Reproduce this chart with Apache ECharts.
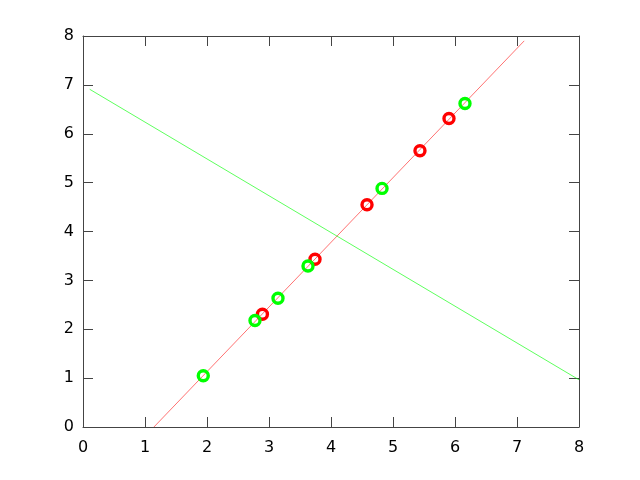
<!DOCTYPE html>
<html><head><meta charset="utf-8">
<script src="https://cdn.jsdelivr.net/npm/echarts@6/dist/echarts.min.js"></script>
<style>html,body{margin:0;padding:0;background:#fff}#c{width:640px;height:480px}</style>
</head><body><div id="c"></div>
<script>
const greenX = [1.94, 2.774, 3.145, 3.629, 4.823, 6.161];
const greenY = [1.048, 2.178, 2.635, 3.295, 4.882, 6.619];
const redX = [2.894, 3.742, 4.581, 5.435, 5.903];
const redY = [2.308, 3.432, 4.548, 5.651, 6.313];
const redLineX = [1.144, 7.116];
const redLineY = [0, 7.9];
const greenLineX = [0.108, 8];
const greenLineY = [6.91, 0.966];
const xTicks = [0,1,2,3,4,5,6,7,8];
const yTicks = [0,1,2,3,4,5,6,7,8];

const zip = (a,b)=>a.map((v,i)=>[v,b[i]]);
const font = {fontFamily:'DejaVu Sans', fontSize:16, color:'#000'};
const axisLine = {show:true, onZero:false, lineStyle:{color:'#444', width:1}};
const tick = {show:true, inside:true, length:10, lineStyle:{color:'#444', width:1}};
function ax(pos, labels, ticks, margin){
  return {type:'value', min:ticks[0], max:ticks[ticks.length-1], interval:1, position:pos,
    axisLine:axisLine, axisTick:tick, splitLine:{show:false},
    axisLabel: labels ? Object.assign({show:true, margin:margin}, font) : {show:false}};
}
const chart = echarts.init(document.getElementById('c'));
chart.setOption({
  animation:false,
  grid:{left:83, top:36, right:61, bottom:53, containLabel:false},
  xAxis:[ax('bottom',true,xTicks,13), ax('top',false,xTicks,0)],
  yAxis:[ax('left',true,yTicks,9), ax('right',false,yTicks,0)],
  series:[
    {type:'line', data:zip(redLineX, redLineY), symbol:'none', lineStyle:{color:'#ff0000', width:0.8, opacity:0.7}, z:1},
    {type:'line', data:zip(greenLineX, greenLineY), symbol:'none', lineStyle:{color:'#00ff00', width:0.8, opacity:0.8}, z:1},
    {type:'scatter', data:zip(redX, redY), symbol:'circle', symbolSize:10,
      itemStyle:{color:'rgba(0,0,0,0)', borderColor:'#ff0000', borderWidth:3.4, opacity:1}, z:3},
    {type:'scatter', data:zip(greenX, greenY), symbol:'circle', symbolSize:10,
      itemStyle:{color:'rgba(0,0,0,0)', borderColor:'#00ff00', borderWidth:3.4, opacity:1}, z:3}
  ]
});
</script></body></html>
